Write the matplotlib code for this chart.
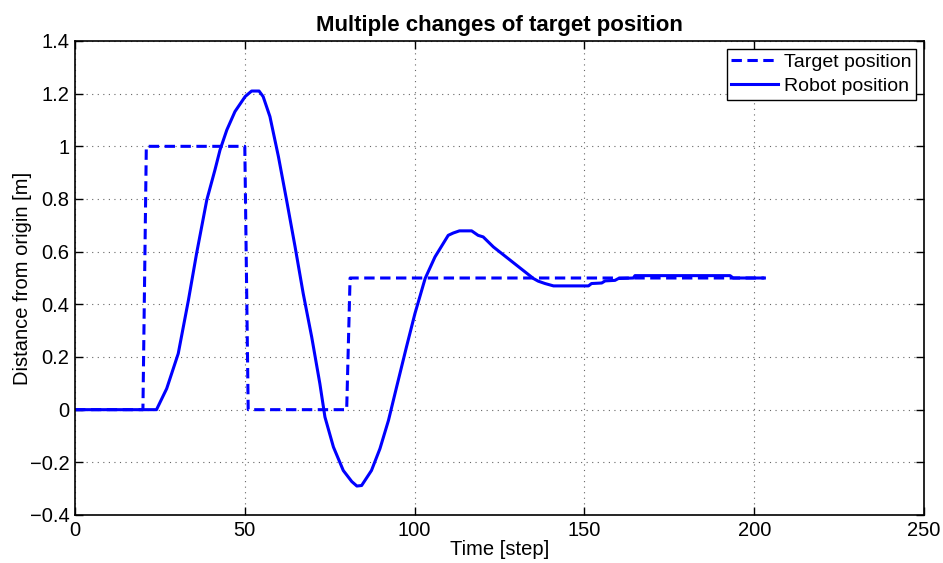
import matplotlib
matplotlib.use('Agg')
import matplotlib.pyplot as plt

plt.rcParams['font.family'] = ['Liberation Sans', 'DejaVu Sans']

# Setpoint given to the controller (one value per step change)
target_t = [0, 20, 21, 50, 51, 80, 81, 203]
target_pos = [0, 0, 1, 1, 0, 0, 0.5, 0.5]

# Measured robot position
robot_t = [0, 24.0, 27.0, 30.4, 33.4, 35.8, 38.8, 41.2, 42.7, 44.7, 47.1, 50.1,
           52.0, 54.2, 55.4, 57.4, 59.9, 62.3, 64.8, 67.2, 69.7, 72.1, 73.6,
           76.1, 79.0, 81.5, 83.0, 84.4, 87.3, 89.8, 92.3, 94.7, 97.6, 100.1,
           103.1, 106.0, 109.9, 111.4, 113.2, 116.8, 118.7, 120.2, 123.2,
           135.0, 136.4, 138.4, 140.9, 151.2, 152.1, 155.1, 156.1, 159.0,
           160.0, 164.4, 164.9, 192.9, 193.8, 203.0]
robot_pos = [0, 0, 0.08, 0.213, 0.416, 0.593, 0.796, 0.91, 0.986, 1.062, 1.132,
             1.189, 1.21, 1.21, 1.189, 1.113, 0.961, 0.796, 0.619, 0.441, 0.276,
             0.099, -0.028, -0.142, -0.231, -0.273, -0.29, -0.288, -0.231,
             -0.148, -0.041, 0.086, 0.238, 0.365, 0.498, 0.58, 0.662, 0.671,
             0.679, 0.679, 0.662, 0.656, 0.618, 0.498, 0.488, 0.479, 0.47,
             0.47, 0.479, 0.481, 0.489, 0.491, 0.498, 0.5, 0.509, 0.509, 0.5,
             0.5]

fig = plt.figure(figsize=(9.43, 5.63), dpi=100)
ax = fig.add_axes([75 / 943, 1 - 515 / 563, (924 - 75) / 943, (515 - 41) / 563])

ax.plot(target_t, target_pos, color='#0000ff', lw=2.2, dashes=(3.4, 1.8),
        label='Target position')
ax.plot(robot_t, robot_pos, color='#0000ff', lw=2.2, label='Robot position')

ax.set_xlim(0, 250)
ax.set_ylim(-0.4, 1.4)
ax.set_xticks([0, 50, 100, 150, 200, 250])
ax.set_yticks([-0.4, -0.2, 0, 0.2, 0.4, 0.6, 0.8, 1, 1.2, 1.4])
ax.set_yticklabels(['\u22120.4', '\u22120.2', '0', '0.2', '0.4', '0.6', '0.8',
                    '1', '1.2', '1.4'])
ax.tick_params(direction='in', top=True, right=True, length=6, width=1,
               labelsize=14.5, pad=4)
ax.grid(True, linestyle=(0, (1, 4)), color='#666666', linewidth=0.8)
for s in ax.spines.values():
    s.set_linewidth(1.2)

ax.set_title('Multiple changes of target position', fontsize=16,
             fontweight='bold', pad=7)
ax.set_xlabel('Time [step]', fontsize=14.5, labelpad=0)
ax.set_ylabel('Distance from origin [m]', fontsize=14.5, labelpad=-2)

leg = ax.legend(loc='upper right', fontsize=14, fancybox=False, framealpha=1,
                edgecolor='black', handlelength=2.4, handletextpad=0.3,
                borderpad=0.25, labelspacing=0.3, borderaxespad=0.4)
leg.get_frame().set_linewidth(1.0)

fig.savefig('out.png', dpi=100)
